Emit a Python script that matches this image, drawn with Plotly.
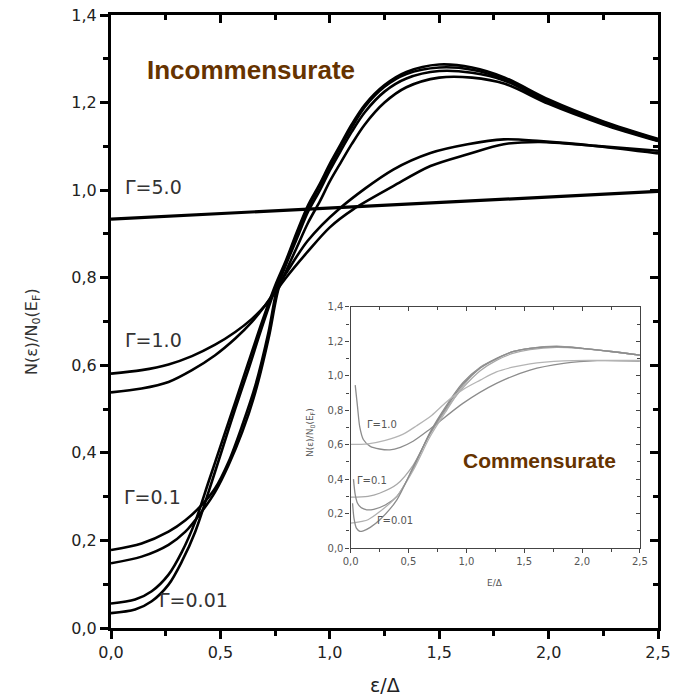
import plotly.graph_objects as go

# ---------------- main panel data (Incommensurate) ----------------
x_g001 = [0, 0.11, 0.186, 0.263, 0.324, 0.385, 0.446, 0.507, 0.568, 0.629, 0.69, 0.751, 0.8, 0.85, 0.9,
          0.955, 1.0, 1.05, 1.1, 1.16, 1.25, 1.35, 1.5, 1.65, 1.8, 2.0, 2.25, 2.5]
y_g001_a = [0.056, 0.065, 0.084, 0.122, 0.174, 0.243, 0.334, 0.425, 0.516, 0.608, 0.699, 0.783, 0.84, 0.905, 0.965,
            1.015, 1.06, 1.105, 1.15, 1.195, 1.24, 1.27, 1.287, 1.28, 1.257, 1.207, 1.157, 1.117]
y_g001_b = [0.034, 0.042, 0.061, 0.099, 0.152, 0.22, 0.311, 0.406, 0.501, 0.592, 0.687, 0.775, 0.835, 0.9, 0.96,
            1.01, 1.055, 1.1, 1.143, 1.19, 1.236, 1.265, 1.28, 1.275, 1.253, 1.204, 1.155, 1.115]

x_g01_a = [0, 0.14, 0.263, 0.34, 0.415, 0.476, 0.537, 0.6, 0.66, 0.72, 0.759, 0.8, 0.85, 0.9, 0.955,
           1.0, 1.05, 1.1, 1.16, 1.25, 1.35, 1.5, 1.65, 1.8, 2.0, 2.25, 2.5]
y_g01_a = [0.178, 0.193, 0.22, 0.246, 0.281, 0.319, 0.379, 0.463, 0.554, 0.676, 0.775, 0.83, 0.89, 0.95, 1.0,
           1.045, 1.09, 1.133, 1.178, 1.225, 1.255, 1.272, 1.268, 1.25, 1.2, 1.152, 1.113]
x_g01_b = [0, 0.14, 0.263, 0.34, 0.415, 0.476, 0.537, 0.6, 0.66, 0.72, 0.766, 0.8, 0.85, 0.9, 0.955,
           1.0, 1.05, 1.1, 1.16, 1.25, 1.35, 1.5, 1.65, 1.8, 2.0, 2.25, 2.5]
y_g01_b = [0.148, 0.163, 0.19, 0.22, 0.266, 0.311, 0.372, 0.448, 0.539, 0.661, 0.775, 0.815, 0.87, 0.925, 0.975,
           1.02, 1.063, 1.105, 1.15, 1.2, 1.235, 1.257, 1.257, 1.243, 1.197, 1.15, 1.112]

x_g1_a = [0, 0.14, 0.263, 0.37, 0.476, 0.568, 0.644, 0.705, 0.751, 0.8, 0.9, 1.0, 1.107, 1.29, 1.46,
          1.63, 1.795, 1.96, 2.215, 2.5]
y_g1_a = [0.581, 0.589, 0.602, 0.621, 0.647, 0.676, 0.706, 0.737, 0.767, 0.8, 0.86, 0.915, 0.956, 1.009, 1.055,
          1.082, 1.105, 1.11, 1.101, 1.09]
x_g1_b = [0, 0.14, 0.263, 0.37, 0.476, 0.568, 0.644, 0.705, 0.751, 0.8, 0.9, 1.04, 1.29, 1.46, 1.63,
          1.795, 1.963, 2.215, 2.5]
y_g1_b = [0.538, 0.547, 0.562, 0.589, 0.623, 0.661, 0.699, 0.737, 0.771, 0.81, 0.885, 0.956, 1.047, 1.085, 1.105,
          1.116, 1.112, 1.101, 1.084]

x_g5 = [0, 2.5]
y_g5 = [0.934, 0.997]

# ---------------- inset data (Commensurate) ----------------
xi_g1_flat = [0, 0.15, 0.3, 0.45, 0.57, 0.7, 0.83, 0.97, 1.12, 1.26, 1.4, 1.55, 1.84, 2.1, 2.5]
yi_g1_flat = [0.602, 0.605, 0.625, 0.66, 0.71, 0.77, 0.85, 0.92, 0.975, 1.023, 1.05, 1.07, 1.087, 1.09, 1.09]
xi_g1_up = [0.04, 0.06, 0.08, 0.11, 0.17, 0.25, 0.34, 0.43, 0.54, 0.685, 0.97, 1.26, 1.55, 1.84, 2.13, 2.5]
yi_g1_up = [0.946, 0.82, 0.70, 0.63, 0.59, 0.575, 0.57, 0.585, 0.62, 0.69, 0.84, 0.956, 1.033, 1.072, 1.088, 1.085]
xi_g01_flat = [0, 0.15, 0.25, 0.4, 0.54, 0.685, 0.83, 0.97, 1.12, 1.26, 1.4, 1.55, 1.78, 2.0, 2.27, 2.5]
yi_g01_flat = [0.295, 0.30, 0.318, 0.37, 0.48, 0.66, 0.81, 0.93, 1.03, 1.09, 1.13, 1.152, 1.165, 1.158, 1.14, 1.12]
xi_g01_up = [0.025, 0.04, 0.06, 0.09, 0.14, 0.2, 0.3, 0.4, 0.54, 0.685, 0.83, 0.97, 1.12, 1.26, 1.4, 1.55,
             1.78, 2.0, 2.27, 2.5]
yi_g01_up = [0.40, 0.31, 0.26, 0.235, 0.222, 0.225, 0.25, 0.30, 0.46, 0.67, 0.83, 0.96, 1.05, 1.1, 1.14, 1.16,
             1.172, 1.16, 1.14, 1.12]
xi_g001_flat = [0, 0.1, 0.15, 0.25, 0.4, 0.54, 0.685, 0.83, 0.97, 1.12, 1.26, 1.4, 1.55, 1.78, 2.0, 2.27, 2.5]
yi_g001_flat = [0.145, 0.155, 0.164, 0.21, 0.30, 0.45, 0.645, 0.80, 0.94, 1.045, 1.10, 1.14, 1.16, 1.17, 1.16, 1.14, 1.12]
xi_g001_up = [0.017, 0.03, 0.05, 0.08, 0.11, 0.17, 0.253, 0.4, 0.54, 0.685, 0.83, 0.97, 1.12, 1.26, 1.4, 1.55,
              1.78, 2.0, 2.27, 2.5]
yi_g001_up = [0.26, 0.17, 0.115, 0.097, 0.10, 0.12, 0.164, 0.28, 0.47, 0.665, 0.82, 0.95, 1.045, 1.1, 1.14, 1.16,
              1.17, 1.16, 1.14, 1.12]

main_labels = ["Γ=5.0", "Γ=1.0", "Γ=0.1", "Γ=0.01"]
inset_labels = ["Γ=1.0", "Γ=0.1", "Γ=0.01"]

fig = go.Figure()

BLK = dict(color="black", width=2.6)
for xs, ys in [(x_g001, y_g001_a), (x_g001, y_g001_b), (x_g01_a, y_g01_a), (x_g01_b, y_g01_b),
               (x_g1_a, y_g1_a), (x_g1_b, y_g1_b)]:
    fig.add_trace(go.Scatter(x=xs, y=ys, mode="lines", line=dict(shape="spline", smoothing=0.9, **BLK),
                             showlegend=False, hoverinfo="skip"))
# Gamma = 5 line lives on the mirror axes (so they get drawn)
fig.add_trace(go.Scatter(x=x_g5, y=y_g5, mode="lines", line=dict(color="black", width=3.2),
                         xaxis="x3", yaxis="y3", showlegend=False, hoverinfo="skip"))

inset_sets = [(xi_g1_flat, yi_g1_flat, "#b4b4b4"), (xi_g1_up, yi_g1_up, "#8c8c8c"),
              (xi_g01_flat, yi_g01_flat, "#a8a8a8"), (xi_g01_up, yi_g01_up, "#8c8c8c"),
              (xi_g001_flat, yi_g001_flat, "#b0b0b0"), (xi_g001_up, yi_g001_up, "#8c8c8c")]
for i, (xs, ys, c) in enumerate(inset_sets):
    fig.add_trace(go.Scatter(x=xs, y=ys, mode="lines",
                             line=dict(color=c, width=1.3, shape="spline", smoothing=0.8),
                             xaxis="x4" if i == 0 else "x2", yaxis="y4" if i == 0 else "y2",
                             showlegend=False, hoverinfo="skip"))

FONT = "DejaVu Sans, Arial, sans-serif"
tickfont_main = dict(family=FONT, size=16, color="#222")

main_x = dict(range=[0, 2.5], showgrid=False, zeroline=False, showline=True, linewidth=3, linecolor="black",
              ticks="outside", ticklen=8, tickwidth=3, tickcolor="black", dtick=0.5, tick0=0,
              tickformat=".1f", tickfont=tickfont_main, automargin=False,
              minor=dict(dtick=0.25, ticks="outside", ticklen=5, tickwidth=3, tickcolor="black"))
main_y = dict(range=[0, 1.4], showgrid=False, zeroline=False, showline=True, linewidth=3, linecolor="black",
              ticks="outside", ticklen=8, tickwidth=3, tickcolor="black", dtick=0.2, tick0=0,
              tickformat=".1f", tickfont=tickfont_main, automargin=False,
              minor=dict(dtick=0.1, ticks="outside", ticklen=5, tickwidth=3, tickcolor="black"))

ins_dom_x = [0.438, 0.967]
ins_dom_y = [0.1305, 0.5237]
tickfont_ins = dict(family=FONT, size=10, color="#555")
ins_x = dict(range=[0, 2.5], domain=ins_dom_x, anchor="y2", showgrid=False, zeroline=False, showline=True,
             linewidth=1.3, linecolor="#444", ticks="outside", ticklen=4, tickwidth=1.2, tickcolor="#444",
             dtick=0.5, tick0=0, tickformat=".1f", tickfont=tickfont_ins, automargin=False,
             minor=dict(dtick=0.25, ticks="outside", ticklen=3, tickwidth=1, tickcolor="#444"))
ins_y = dict(range=[0, 1.4], domain=ins_dom_y, anchor="x2", showgrid=False, zeroline=False, showline=True,
             linewidth=1.3, linecolor="#444", ticks="outside", ticklen=4, tickwidth=1.2, tickcolor="#444",
             dtick=0.2, tick0=0, tickformat=".1f", tickfont=tickfont_ins, automargin=False,
             minor=dict(dtick=0.1, ticks="outside", ticklen=3, tickwidth=1, tickcolor="#444"))

fig.update_layout(
    width=677, height=696,
    margin=dict(l=111, r=19, t=15, b=68, autoexpand=False),
    paper_bgcolor="white", plot_bgcolor="white",
    separators=",.",
    xaxis=dict(domain=[0, 1], anchor="y", **main_x),
    yaxis=dict(domain=[0, 1], anchor="x", **main_y),
    xaxis3=dict(overlaying="x", side="top", anchor="y3", range=[0, 2.5], showgrid=False, zeroline=False,
                showline=True, linewidth=3, linecolor="black", ticks="inside", ticklen=8, tickwidth=3,
                tickcolor="black", dtick=0.5, tick0=0, showticklabels=False, automargin=False,
                minor=dict(dtick=0.25, ticks="inside", ticklen=5, tickwidth=3, tickcolor="black")),
    yaxis3=dict(overlaying="y", side="right", anchor="x3", range=[0, 1.4], showgrid=False, zeroline=False,
                showline=True, linewidth=3, linecolor="black", ticks="inside", ticklen=8, tickwidth=3,
                tickcolor="black", dtick=0.2, tick0=0, showticklabels=False, automargin=False,
                minor=dict(dtick=0.1, ticks="inside", ticklen=5, tickwidth=3, tickcolor="black")),
    xaxis2=ins_x,
    yaxis2=ins_y,
    xaxis4=dict(overlaying="x2", side="top", anchor="y4", range=[0, 2.5], showgrid=False, zeroline=False,
                showline=True, linewidth=1.3, linecolor="#444", ticks="inside", ticklen=4, tickwidth=1.2,
                tickcolor="#444", dtick=0.5, tick0=0, showticklabels=False, automargin=False,
                minor=dict(dtick=0.25, ticks="inside", ticklen=3, tickwidth=1, tickcolor="#444")),
    yaxis4=dict(overlaying="y2", side="right", anchor="x4", range=[0, 1.4], showgrid=False, zeroline=False,
                showline=True, linewidth=1.3, linecolor="#444", ticks="inside", ticklen=4, tickwidth=1.2,
                tickcolor="#444", dtick=0.2, tick0=0, showticklabels=False, automargin=False,
                minor=dict(dtick=0.1, ticks="inside", ticklen=3, tickwidth=1, tickcolor="#444")),
)

ann = []
# main axis titles
ann.append(dict(text="N(ε)/N<sub>0</sub>(E<sub>F</sub>)", xref="paper", yref="paper",
                x=(32 - 111) / 547, y=(628 - 332) / 613, textangle=-90, showarrow=False,
                font=dict(family=FONT, size=16, color="#333"), xanchor="center", yanchor="middle"))
ann.append(dict(text="ε/Δ", xref="paper", yref="paper", x=(385 - 111) / 547, y=(628 - 685) / 613,
                showarrow=False, font=dict(family=FONT, size=19, color="#222"),
                xanchor="center", yanchor="middle"))
# main labels
main_pos = [(0.055, 1.007), (0.055, 0.658), (0.05, 0.299), (0.21, 0.064)]
for t, (lx, ly) in zip(main_labels, main_pos):
    ann.append(dict(text=t, xref="x", yref="y", x=lx, y=ly, showarrow=False, xanchor="left", yanchor="middle",
                    font=dict(family=FONT, size=19, color="#333")))
ann.append(dict(text="<b>Incommensurate</b>", xref="x", yref="y", x=0.155, y=1.274, showarrow=False,
                xanchor="left", yanchor="middle",
                font=dict(family="Liberation Sans, Arial, sans-serif", size=26, color="#663300")))
# inset labels
ins_pos = [(0.268, 0.715), (0.184, 0.395), (0.383, 0.159)]
for t, (lx, ly) in zip(inset_labels, ins_pos):
    ann.append(dict(text=t, xref="x2", yref="y2", x=lx, y=ly, showarrow=False, xanchor="center",
                    yanchor="middle", font=dict(family=FONT, size=10, color="#555")))
ann.append(dict(text="<b>Commensurate</b>", xref="x2", yref="y2", x=1.633, y=0.511, showarrow=False,
                xanchor="center", yanchor="middle",
                font=dict(family="Liberation Sans, Arial, sans-serif", size=21, color="#663300")))
ann.append(dict(text="N(ε)/N<sub>0</sub>(E<sub>F</sub>)", xref="paper", yref="paper",
                x=(310 - 111) / 547, y=(628 - 433) / 613, textangle=-90, showarrow=False,
                font=dict(family=FONT, size=9, color="#555"), xanchor="center", yanchor="middle"))
ann.append(dict(text="E/Δ", xref="paper", yref="paper", x=(495 - 111) / 547, y=(628 - 583) / 613,
                showarrow=False, font=dict(family=FONT, size=9, color="#555"),
                xanchor="center", yanchor="middle"))
fig.update_layout(annotations=ann)

# remove the browser's default 8px body margin so the figure fills the window exactly
fig.write_html("out.html", config={"displayModeBar": False},
               post_script="document.body.style.margin='0px';document.body.style.overflow='hidden';")
